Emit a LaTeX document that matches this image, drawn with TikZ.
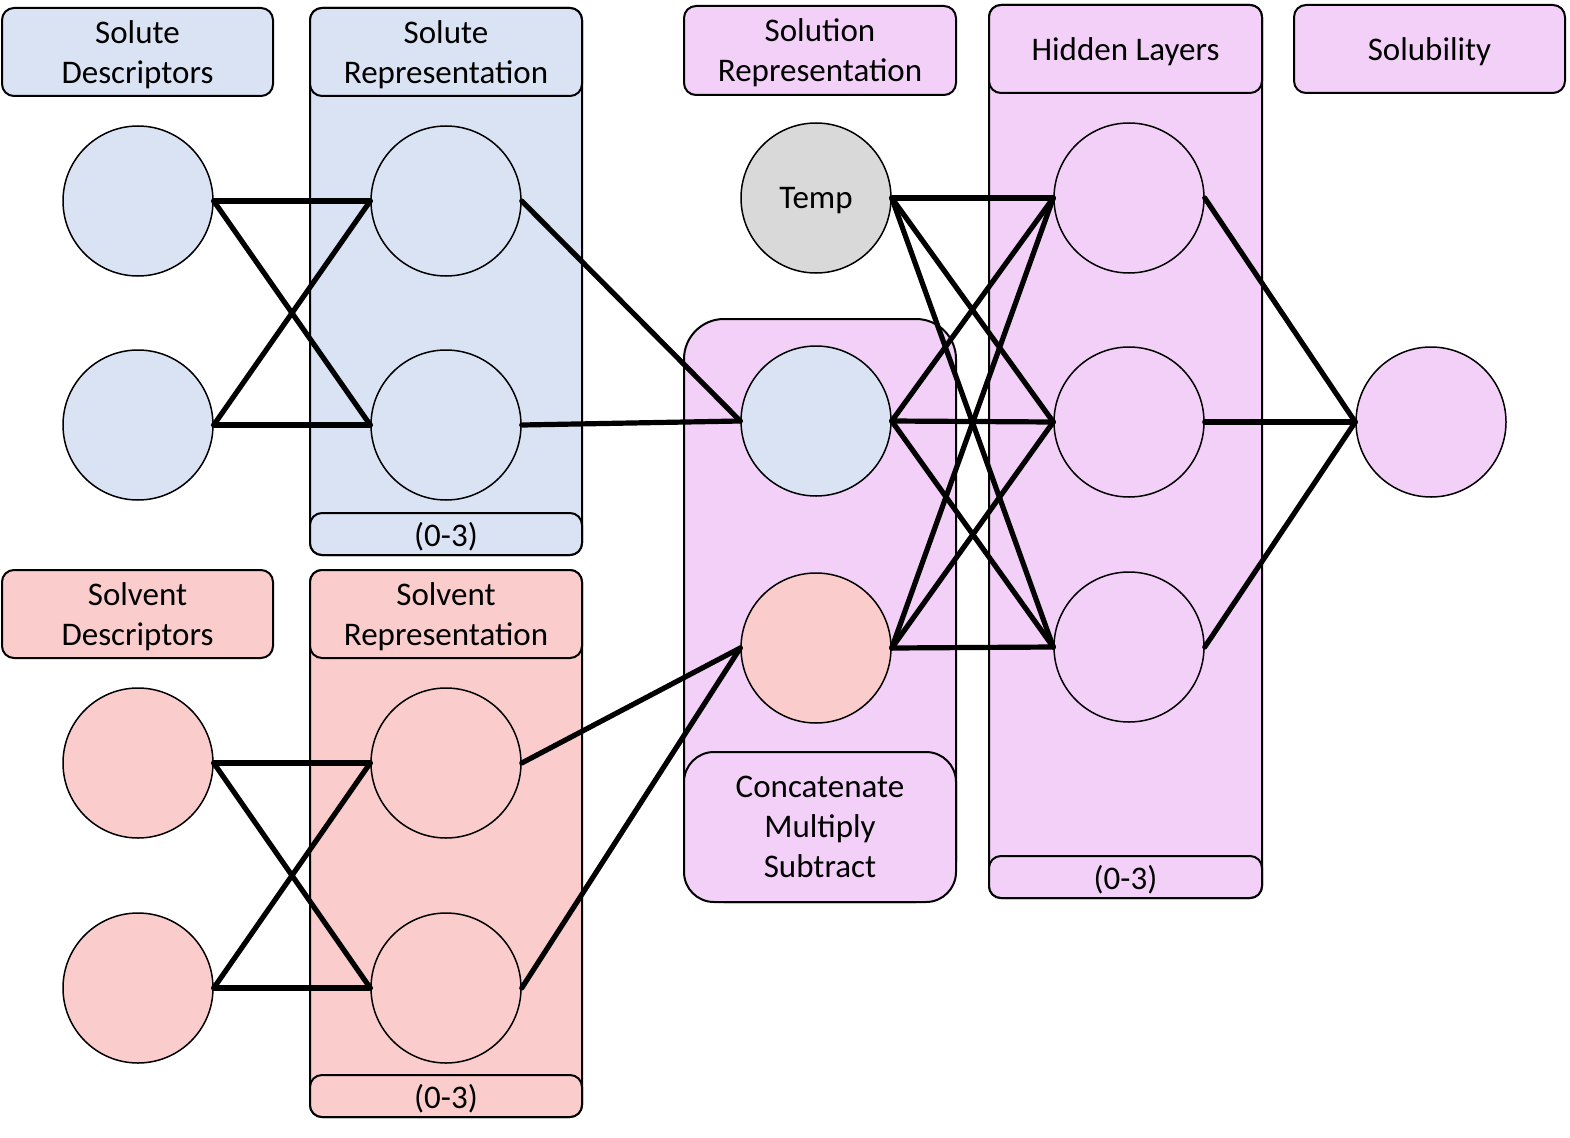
\documentclass[tikz,border=0pt]{standalone}
\usepackage{fontspec}
\setmainfont{Carlito}
\definecolor{bluef}{RGB}{218,227,243}
\definecolor{redf}{RGB}{250,204,204}
\definecolor{purpf}{RGB}{243,208,248}
\definecolor{greyf}{RGB}{217,217,217}
\begin{document}
\begin{tikzpicture}[x=1pt,y=-1pt,
  box/.style={draw, line width=2pt, rounded corners=12pt, inner sep=0pt, align=center,
    text depth=0pt, font=\fontsize{33}{40}\selectfont},
  neuron/.style={circle, draw, line width=1.5pt, minimum size=150pt, inner sep=0pt,
    text depth=0pt, font=\fontsize{33}{40}\selectfont},
  link/.style={line width=5.2pt, line cap=round}]
\useasboundingbox (0,0) rectangle (1570,1137);
\fill[white] (0,0) rectangle (1570,1137);

% layer columns
\node[box, fill=bluef, minimum width=272pt, minimum height=547pt] (solcol) at (446,281.5) {};
\node[box, fill=redf, minimum width=272pt, minimum height=547pt] (svcol) at (446,843.5) {};
\node[box, fill=purpf, minimum width=272pt, minimum height=583pt, rounded corners=40pt] (cccol) at (820,610.5) {};
\node[box, fill=purpf, minimum width=273pt, minimum height=893pt] (hidcol) at (1125.5,451.5) {};

% headers and footers
\node[box, fill=bluef, minimum width=271pt, minimum height=88pt] (hsd) at (137.5,52) {Solute\\Descriptors};
\node[box, fill=bluef, minimum width=272pt, minimum height=88pt] (hsr) at (446,52) {Solute\\Representation};
\node[box, fill=bluef, minimum width=272pt, minimum height=42pt] (fsr) at (446,534) {(0-3)};
\node[box, fill=redf, minimum width=271pt, minimum height=88pt] (hvd) at (137.5,614) {Solvent\\Descriptors};
\node[box, fill=redf, minimum width=272pt, minimum height=88pt] (hvr) at (446,614) {Solvent\\Representation};
\node[box, fill=redf, minimum width=272pt, minimum height=42pt] (fvr) at (446,1096) {(0-3)};
\node[box, fill=purpf, minimum width=272pt, minimum height=89pt] (hsol) at (820,50.5) {Solution\\Representation};
\node[box, fill=purpf, minimum width=272pt, minimum height=150pt, rounded corners=30pt] (cat) at (820,827) {Concatenate\\Multiply\\Subtract};
\node[box, fill=purpf, minimum width=273pt, minimum height=88pt] (hhid) at (1125.5,49) {Hidden Layers};
\node[box, fill=purpf, minimum width=273pt, minimum height=42pt] (fhid) at (1125.5,877) {(0-3)};
\node[box, fill=purpf, minimum width=271pt, minimum height=88pt] (hout) at (1429.5,49) {Solubility};

% neurons
\node[neuron, fill=bluef] (sd1) at (138,201) {};
\node[neuron, fill=bluef] (sd2) at (138,425) {};
\node[neuron, fill=bluef] (sr1) at (446,201) {};
\node[neuron, fill=bluef] (sr2) at (446,425) {};
\node[neuron, fill=redf] (vd1) at (138,763) {};
\node[neuron, fill=redf] (vd2) at (138,988) {};
\node[neuron, fill=redf] (vr1) at (446,763) {};
\node[neuron, fill=redf] (vr2) at (446,988) {};
\node[neuron, fill=greyf] (temp) at (816,198) {Temp};
\node[neuron, fill=bluef] (cs) at (816,421) {};
\node[neuron, fill=redf] (cv) at (816,648) {};
\node[neuron, fill=purpf] (h1) at (1129,198) {};
\node[neuron, fill=purpf] (h2) at (1129,422) {};
\node[neuron, fill=purpf] (h3) at (1129,647) {};
\node[neuron, fill=purpf] (out) at (1431,422) {};

% connections
\foreach \a in {sd1,sd2} \foreach \b in {sr1,sr2} \draw[link] (\a.east) -- (\b.west);
\foreach \a in {vd1,vd2} \foreach \b in {vr1,vr2} \draw[link] (\a.east) -- (\b.west);
\foreach \a in {sr1,sr2} \draw[link] (\a.east) -- (cs.west);
\foreach \a in {vr1,vr2} \draw[link] (\a.east) -- (cv.west);
\foreach \a in {temp,cs,cv} \foreach \b in {h1,h2,h3} \draw[link] (\a.east) -- (\b.west);
\foreach \a in {h1,h2,h3} \draw[link] (\a.east) -- (out.west);
\end{tikzpicture}
\end{document}
